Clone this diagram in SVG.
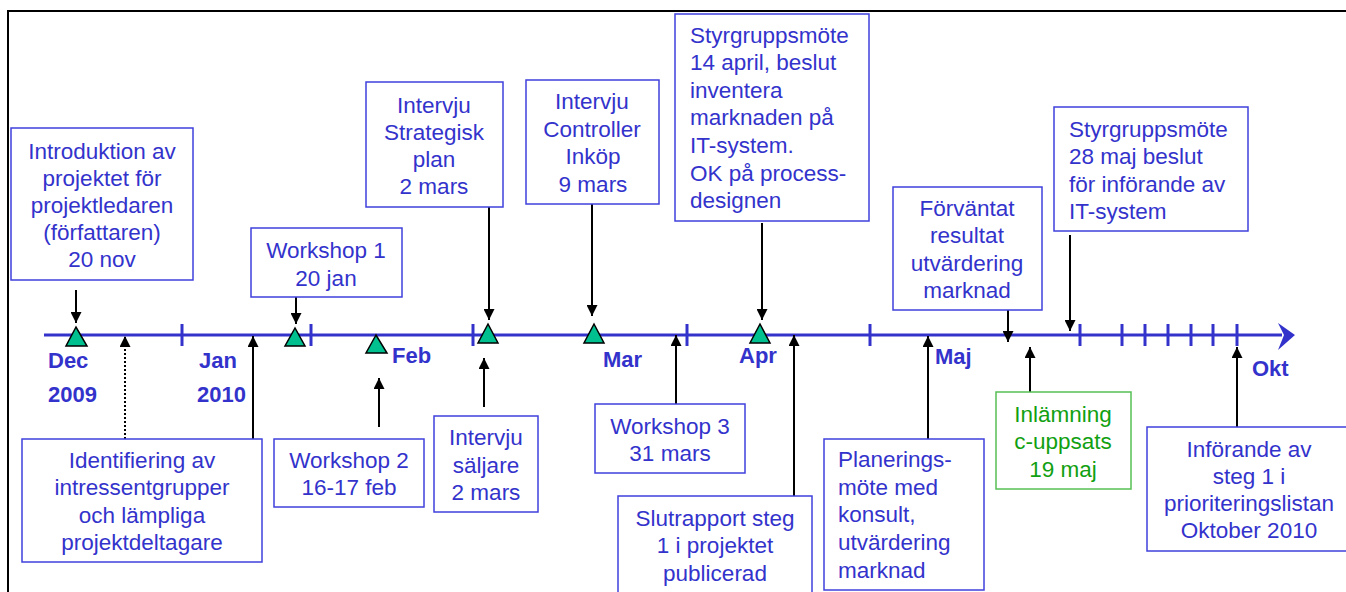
<svg xmlns="http://www.w3.org/2000/svg" width="1346" height="592" viewBox="0 0 1346 592">
  <defs>
    <marker id="arr" viewBox="0 0 10 10" refX="10" refY="5" markerWidth="6" markerHeight="5.5" orient="auto" markerUnits="strokeWidth">
      <path d="M0,0 L10,5 L0,10 Z" fill="#000"/>
    </marker>
    <style>
      .box { fill: #fff; stroke: #4040DD; stroke-width: 1.5; }
      .gbox { fill: #fff; stroke: #55C055; stroke-width: 1.5; }
      .t { font-family: "Liberation Sans", Arial, sans-serif; font-size: 22.5px; fill: #3333CC; }
      .c { text-anchor: middle; }
      .g { fill: #11A011; }
      .lbl { font-family: "Liberation Sans", Arial, sans-serif; font-size: 22px; font-weight: bold; fill: #3333CC; }
      .con { stroke: #000; stroke-width: 2; fill: none; marker-end: url(#arr); }
      .dot { stroke: #000; stroke-width: 2; stroke-dasharray: 2 2; fill: none; marker-end: url(#arr); }
      .tick { stroke: #3333CC; stroke-width: 3; }
      .ms { fill: #00C090; stroke: #000; stroke-width: 1.5; }
    </style>
  </defs>

  <rect width="1346" height="592" fill="#fff"/>
  <!-- page frame -->
  <path d="M8,592 V11 H1346" fill="none" stroke="#000" stroke-width="2"/>

  <!-- time axis -->
  <g id="axis">
    <line x1="44" y1="335" x2="1282" y2="335" stroke="#3333CC" stroke-width="3"/>
    <path d="M1278,323 L1295,335 L1278,350 L1284,335 Z" fill="#3333CC"/>
    <g class="tick">
      <line x1="182" y1="324" x2="182" y2="346"/>
      <line x1="311" y1="324" x2="311" y2="346"/>
      <line x1="473" y1="324" x2="473" y2="346"/>
      <line x1="687" y1="324" x2="687" y2="346"/>
      <line x1="870" y1="324" x2="870" y2="346"/>
      <line x1="1080" y1="324" x2="1080" y2="346"/>
      <line x1="1122" y1="324" x2="1122" y2="346"/>
      <line x1="1145" y1="324" x2="1145" y2="346"/>
      <line x1="1168" y1="324" x2="1168" y2="346"/>
      <line x1="1191" y1="324" x2="1191" y2="346"/>
      <line x1="1213" y1="324" x2="1213" y2="346"/>
      <line x1="1237" y1="324" x2="1237" y2="346"/>
    </g>
    <!-- milestones -->
    <polygon class="ms" points="76,327 66,346 87,346"/>
    <polygon class="ms" points="295,328 285,346 305,346"/>
    <polygon class="ms" points="376,335 366,353 387,353"/>
    <polygon class="ms" points="488,324 478,343 498,343"/>
    <polygon class="ms" points="594,324 584,343 604,343"/>
    <polygon class="ms" points="760,324 750,343 770,343"/>
    <!-- month labels -->
    <text class="lbl" x="48" y="368">Dec</text>
    <text class="lbl" x="48" y="402">2009</text>
    <text class="lbl" x="199" y="368">Jan</text>
    <text class="lbl" x="197" y="402">2010</text>
    <text class="lbl" x="392" y="363">Feb</text>
    <text class="lbl" x="603" y="367">Mar</text>
    <text class="lbl" x="739" y="363">Apr</text>
    <text class="lbl" x="935" y="364">Maj</text>
    <text class="lbl" x="1252" y="376">Okt</text>
  </g>

  <!-- connectors -->
  <g id="connectors">
    <line class="con" x1="76" y1="290" x2="76" y2="323"/>
    <line class="con" x1="296" y1="288" x2="296" y2="324"/>
    <line class="dot" x1="125" y1="439" x2="125" y2="336"/>
    <line class="con" x1="253" y1="439" x2="253" y2="336"/>
    <line class="con" x1="379" y1="427" x2="379" y2="378"/>
    <line class="con" x1="489" y1="207" x2="489" y2="320"/>
    <line class="con" x1="592" y1="194" x2="592" y2="316"/>
    <line class="con" x1="762" y1="223" x2="762" y2="320"/>
    <line class="con" x1="484" y1="407" x2="484" y2="358"/>
    <line class="con" x1="676" y1="404" x2="676" y2="335"/>
    <line class="con" x1="794" y1="496" x2="794" y2="335"/>
    <line class="con" x1="928" y1="439" x2="928" y2="336"/>
    <line class="con" x1="1008" y1="310" x2="1008" y2="342"/>
    <line class="con" x1="1070" y1="235" x2="1070" y2="331"/>
    <line class="con" x1="1030" y1="392" x2="1030" y2="347"/>
    <line class="con" x1="1237" y1="427" x2="1237" y2="347"/>
  </g>

  <!-- events above the axis -->
  <g id="intro">
    <rect class="box" x="11" y="128" width="182" height="152"/>
    <text class="t c" x="102" y="159">Introduktion av</text>
    <text class="t c" x="102" y="186">projektet för</text>
    <text class="t c" x="102" y="213">projektledaren</text>
    <text class="t c" x="102" y="240">(författaren)</text>
    <text class="t c" x="102" y="267">20 nov</text>
  </g>
  <g id="workshop1">
    <rect class="box" x="251" y="228" width="151" height="69"/>
    <text class="t c" x="326" y="258">Workshop 1</text>
    <text class="t c" x="326" y="286">20 jan</text>
  </g>
  <g id="intervju-strategisk">
    <rect class="box" x="366" y="82" width="137" height="125"/>
    <text class="t c" x="434" y="113">Intervju</text>
    <text class="t c" x="434" y="140">Strategisk</text>
    <text class="t c" x="434" y="167">plan</text>
    <text class="t c" x="434" y="194">2 mars</text>
  </g>
  <g id="intervju-controller">
    <rect class="box" x="526" y="80" width="133" height="124"/>
    <text class="t c" x="592" y="109">Intervju</text>
    <text class="t c" x="592" y="137">Controller</text>
    <text class="t c" x="593" y="164">Inköp</text>
    <text class="t c" x="593" y="192">9 mars</text>
  </g>
  <g id="styrgrupp-april">
    <rect class="box" x="675" y="14" width="194" height="207"/>
    <text class="t" x="690" y="43">Styrgruppsmöte</text>
    <text class="t" x="690" y="70">14 april, beslut</text>
    <text class="t" x="690" y="98">inventera</text>
    <text class="t" x="690" y="125">marknaden på</text>
    <text class="t" x="690" y="153">IT-system.</text>
    <text class="t" x="690" y="181">OK på process-</text>
    <text class="t" x="690" y="208">designen</text>
  </g>
  <g id="forvantat">
    <rect class="box" x="893" y="187" width="149" height="123"/>
    <text class="t c" x="967" y="216">Förväntat</text>
    <text class="t c" x="967" y="243">resultat</text>
    <text class="t c" x="967" y="271">utvärdering</text>
    <text class="t c" x="967" y="298">marknad</text>
  </g>
  <g id="styrgrupp-maj">
    <rect class="box" x="1054" y="107" width="194" height="124"/>
    <text class="t" x="1069" y="137">Styrgruppsmöte</text>
    <text class="t" x="1069" y="164">28 maj beslut</text>
    <text class="t" x="1069" y="192">för införande av</text>
    <text class="t" x="1069" y="219">IT-system</text>
  </g>

  <!-- events below the axis -->
  <g id="identifiering">
    <rect class="box" x="22" y="439" width="240" height="123"/>
    <text class="t c" x="142" y="468">Identifiering av</text>
    <text class="t c" x="142" y="495">intressentgrupper</text>
    <text class="t c" x="142" y="523">och lämpliga</text>
    <text class="t c" x="142" y="550">projektdeltagare</text>
  </g>
  <g id="workshop2">
    <rect class="box" x="274" y="439" width="150" height="68"/>
    <text class="t c" x="349" y="468">Workshop 2</text>
    <text class="t c" x="349" y="495">16-17 feb</text>
  </g>
  <g id="intervju-saljare">
    <rect class="box" x="434" y="416" width="104" height="96"/>
    <text class="t c" x="486" y="445">Intervju</text>
    <text class="t c" x="486" y="473">säljare</text>
    <text class="t c" x="486" y="500">2 mars</text>
  </g>
  <g id="workshop3">
    <rect class="box" x="595" y="404" width="150" height="69"/>
    <text class="t c" x="670" y="434">Workshop 3</text>
    <text class="t c" x="670" y="461">31 mars</text>
  </g>
  <g id="slutrapport">
    <rect class="box" x="618" y="496" width="194" height="110"/>
    <text class="t c" x="715" y="526">Slutrapport steg</text>
    <text class="t c" x="715" y="553">1 i projektet</text>
    <text class="t c" x="715" y="581">publicerad</text>
  </g>
  <g id="planering">
    <rect class="box" x="824" y="439" width="160" height="151"/>
    <text class="t" x="838" y="467">Planerings-</text>
    <text class="t" x="838" y="495">möte med</text>
    <text class="t" x="838" y="522">konsult,</text>
    <text class="t" x="838" y="550">utvärdering</text>
    <text class="t" x="838" y="578">marknad</text>
  </g>
  <g id="inlamning">
    <rect class="gbox" x="996" y="392" width="135" height="97"/>
    <text class="t c g" x="1063" y="422">Inlämning</text>
    <text class="t c g" x="1063" y="449">c-uppsats</text>
    <text class="t c g" x="1063" y="477">19 maj</text>
  </g>
  <g id="inforande">
    <rect class="box" x="1147" y="427" width="210" height="124"/>
    <text class="t c" x="1249" y="457">Införande av</text>
    <text class="t c" x="1249" y="484">steg 1 i</text>
    <text class="t c" x="1249" y="511">prioriteringslistan</text>
    <text class="t c" x="1249" y="538">Oktober 2010</text>
  </g>
</svg>
